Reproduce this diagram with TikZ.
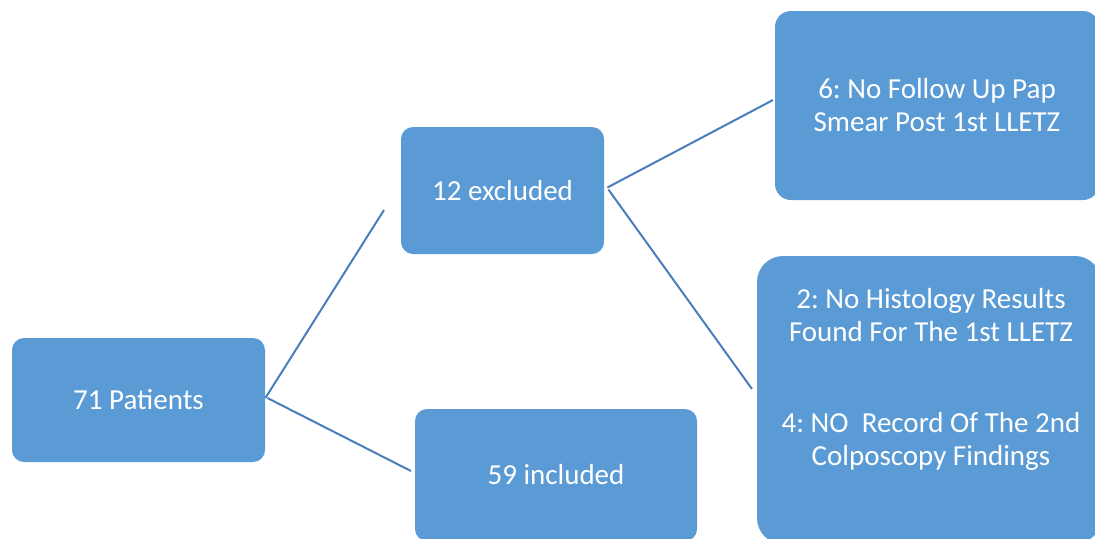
\documentclass[tikz,border=0pt]{standalone}
\usepackage{fontspec}
\setmainfont{Carlito}
\usetikzlibrary{positioning}
\definecolor{boxblue}{HTML}{5B9BD5}
\definecolor{lineblue}{HTML}{4A7EBB}
\frenchspacing

\begin{document}
\begin{tikzpicture}[x=0.5pt, y=-0.5pt,
        font=\fontsize{14.5}{16.5}\selectfont,
        stagebox/.style={rectangle, rounded corners=6pt, fill=boxblue, draw=none,
            text=white, align=center, inner sep=0pt},
        link/.style={draw=lineblue, line width=1pt}]
        \useasboundingbox (0,0) rectangle (1095,538);

        % boxes
        \node[stagebox, minimum width=126.5pt, minimum height=62pt] (patients) at (138.5,400) {71 Patients};
        \node[stagebox, minimum width=101.5pt, minimum height=63.5pt] (excluded) at (502.5,190.5) {12 excluded};
        \node[stagebox, minimum width=141pt, minimum height=66pt] (included) at (556,475) {59 included};
        \node[stagebox, rounded corners=8pt, minimum width=162pt, minimum height=94.5pt] (nopap) at (937,105.5)
            {6: No Follow Up Pap\\Smear Post 1st LLETZ};
        \node[stagebox, rounded corners=13pt, minimum width=172pt, minimum height=144pt] (records) at (929,400) {};
        \node[text=white, align=center] (recordstext) at (931,379)
            {2: No Histology Results\\Found For The 1st LLETZ\\[29pt]4: NO\ \ Record Of The 2nd\\Colposcopy Findings};

        % free ends of the connectors
        \coordinate (toexcl) at (384,210);
        \coordinate (toincl) at (411,471);
        \coordinate (topap) at (773,100);
        \coordinate (torec) at (752,389);

        \draw[link] ([yshift=1pt]patients.east) -- (toexcl);
        \draw[link] ([xshift=1pt,yshift=1pt]patients.east) -- (toincl);
        \draw[link] ([xshift=1.5pt,yshift=1.5pt]excluded.east) -- (topap);
        \draw[link] ([xshift=2pt,yshift=0.5pt]excluded.east) -- (torec);
    \end{tikzpicture}
\end{document}
